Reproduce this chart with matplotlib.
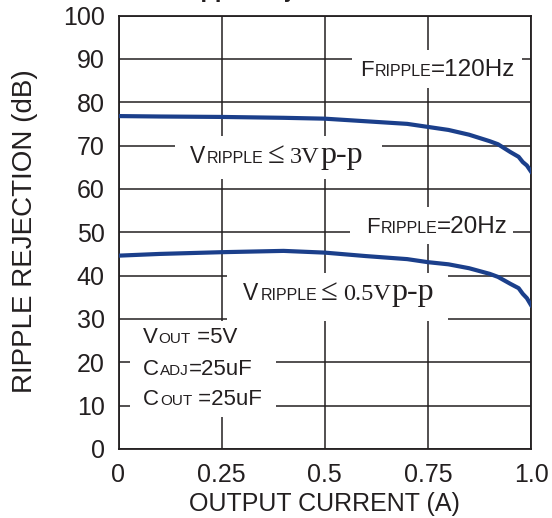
import matplotlib
matplotlib.use("Agg")
import matplotlib.pyplot as plt
from matplotlib.patches import Rectangle
from matplotlib.transforms import offset_copy

# ---- data ----
current = [0, 0.1, 0.25, 0.4, 0.5, 0.6, 0.7, 0.75, 0.8, 0.85, 0.9, 0.92, 0.95, 0.97, 0.98, 0.99, 1.0]
rej_120hz = [76.8, 76.7, 76.6, 76.4, 76.2, 75.6, 75.0, 74.3, 73.6, 72.5, 71.0, 70.3, 68.5, 67.4, 66.2, 65.4, 64.0]
rej_20hz = [44.6, 45.0, 45.4, 45.7, 45.3, 44.5, 43.8, 43.1, 42.6, 41.7, 40.4, 39.7, 38.1, 37.1, 35.8, 34.8, 33.2]
x_ticks = [0, 0.25, 0.5, 0.75, 1.0]
x_tick_labels = ["0", "0.25", "0.5", "0.75", "1.0"]
y_ticks = [0, 10, 20, 30, 40, 50, 60, 70, 80, 90, 100]
title = "Ripple Rejection vs Current"
xlabel = "OUTPUT CURRENT (A)"
ylabel = "RIPPLE REJECTION (dB)"

INK = "#231f20"
BLUE = "#1b3f8b"
SANS = ["Liberation Sans", "DejaVu Sans"]
SERIF = ["Liberation Serif", "DejaVu Serif"]

plt.rcParams["font.family"] = SANS

fig = plt.figure(figsize=(5.52, 5.18), dpi=100)
ax = fig.add_axes([118.5 / 552, 69 / 518, 412.5 / 552, 433.5 / 518])

ax.set_xlim(0, 1.0)
ax.set_ylim(0, 100)
ax.set_xticks(x_ticks)
ax.set_xticklabels(x_tick_labels)
ax.set_yticks(y_ticks)
ax.tick_params(length=0, labelsize=18, colors=INK, pad=10)
ax.set_axisbelow(True)
ax.grid(True, color=INK, lw=1.1)
for s in ax.spines.values():
    s.set_color(INK)
    s.set_linewidth(1.3)

ax.set_xlabel(xlabel, fontsize=18, color=INK, va="center")
ax.xaxis.set_label_coords(0.5, -0.128)
ax.set_ylabel(ylabel, fontsize=20, color=INK, va="center")
ax.yaxis.set_label_coords(-0.227, 0.503)

fig.text(0.6, 1.005, title, fontsize=17, fontweight="bold", color=INK,
         ha="center", va="baseline")

# white label boxes hiding the grid
for (x0, x1, y0, y1) in [(0.566, 0.978, 83.3, 92.0),
                         (0.137, 0.639, 62.3, 72.2),
                         (0.561, 0.956, 47.3, 55.8),
                         (0.263, 0.799, 29.5, 40.6),
                         (0.028, 0.382, 7.4, 29.6)]:
    ax.add_patch(Rectangle((x0, y0), x1 - x0, y1 - y0, facecolor="white",
                           edgecolor="none", zorder=1))

ax.plot(current, rej_120hz, color=BLUE, lw=3, zorder=3, solid_joinstyle="round")
ax.plot(current, rej_20hz, color=BLUE, lw=3, zorder=3, solid_joinstyle="round")

fig.canvas.draw()
renderer = fig.canvas.get_renderer()


def rich(x, y, parts):
    off = 0.0
    for item in parts:
        if isinstance(item, (int, float)):
            off += item
            continue
        s, size, fam = item
        t = ax.text(x, y, s, fontsize=size, family=fam, color=INK,
                    ha="left", va="baseline", zorder=4,
                    transform=offset_copy(ax.transData, fig=fig, x=off, y=0,
                                          units="dots"))
        off += t.get_window_extent(renderer).width


rich(0.585, 86.0, [("F", 16, SANS), 1, ("RIPPLE", 11.5, SANS), ("=120Hz", 17.5, SANS)])
rich(0.173, 66.0, [("V", 16.5, SANS), 2, ("RIPPLE", 11.5, SANS), 4,
                   ("≤", 22, SERIF), 5, ("3V", 17.5, SERIF), 1, ("p-p", 23, SERIF)])
rich(0.600, 49.9, [("F", 16, SANS), 1, ("RIPPLE", 11.5, SANS), ("=20Hz", 17.5, SANS)])
rich(0.302, 34.4, [("V", 16.5, SANS), 2, ("RIPPLE", 11.5, SANS), 4,
                   ("≤", 22, SERIF), 5, ("0.5V", 17.5, SERIF), 1, ("p-p", 23, SERIF)])
rich(0.059, 24.4, [("V", 16, SANS), 1, ("OUT", 11, SANS), (" =5V", 16, SANS)])
rich(0.059, 17.1, [("C", 16, SANS), 1, ("ADJ", 11, SANS), ("=25uF", 16, SANS)])
rich(0.059, 10.2, [("C", 16, SANS), 1, ("OUT", 11, SANS), (" =25uF", 16, SANS)])

fig.savefig("out.png", dpi=100)
